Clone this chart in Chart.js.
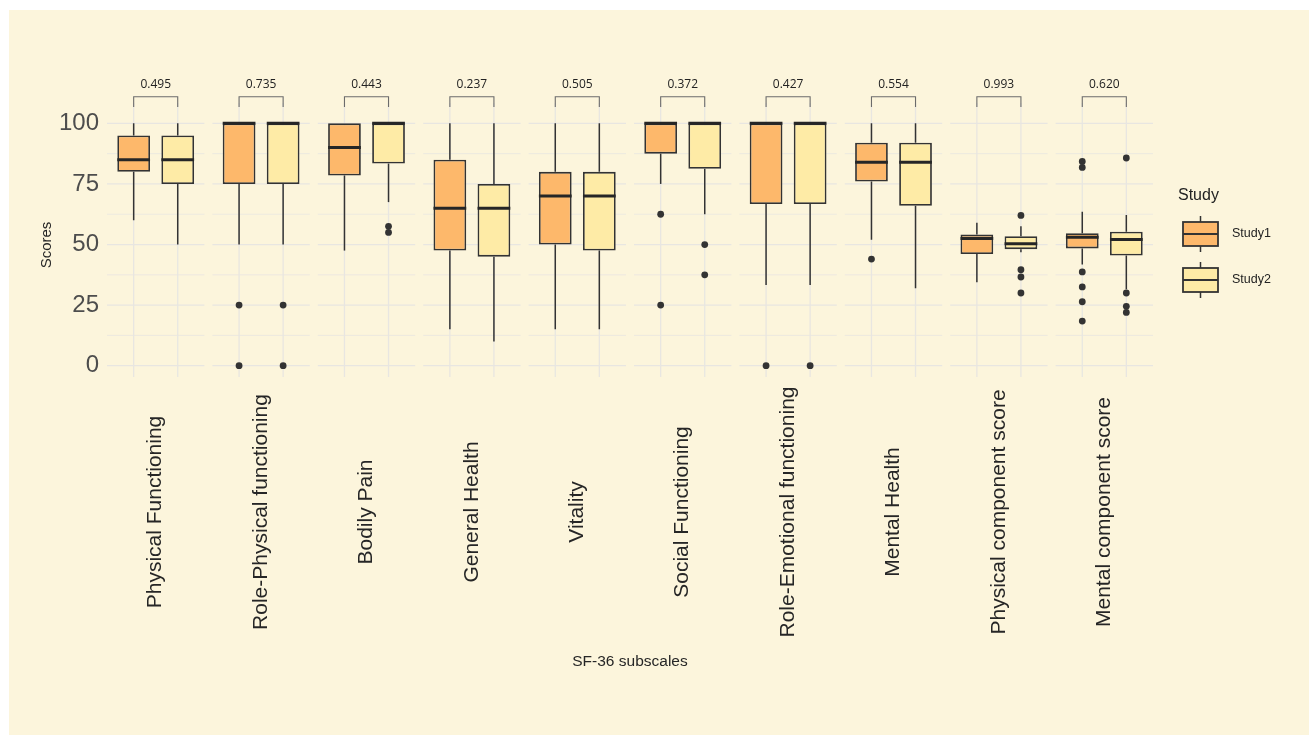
<!DOCTYPE html>
<html>
<head>
<meta charset="utf-8">
<script src="https://cdn.jsdelivr.net/npm/chart.js@4.4.1/dist/chart.umd.min.js"></script>
<style>
  html, body { margin: 0; padding: 0; background: #ffffff; }
  #box { width: 1309px; height: 735px; }
</style>
</head>
<body>
<div id="box"><canvas id="sfChart" width="1309" height="735"></canvas></div>
<script>
const categories = ['Physical Functioning', 'Role-Physical functioning', 'Bodily Pain', 'General Health',
    'Vitality', 'Social Functioning', 'Role-Emotional functioning', 'Mental Health',
    'Physical component score', 'Mental component score'];
const pValues = ['0.495', '0.735', '0.443', '0.237', '0.505', '0.372', '0.427', '0.554', '0.993', '0.620'];
const yTicks = [0, 25, 50, 75, 100];

// Study1 box stats
const s1Min = [60, 50, 47.5, 15, 15, 75, 33.3, 52, 34.4, 41.8];
const s1Q1 = [80, 75, 78.5, 47.5, 50, 87.5, 66.7, 76, 46.1, 48.4];
const s1Median = [85, 100, 90, 65, 70, 100, 100, 84, 52.5, 53.0];
const s1Q3 = [95, 100, 100, 85, 80, 100, 100, 92, 54.1, 54.7];
const s1Max = [100, 100, 100, 100, 100, 100, 100, 100, 59.0, 63.5];
const s1Outliers = [[], [25, 0], [], [], [], [62.5, 25], [0], [44], [], [84.3, 81.8, 38.7, 32.5, 26.4, 18.4]];

// Study2 box stats
const s2Min = [50, 50, 67.5, 10, 15, 62.5, 33.3, 32, 46.8, 31.5];
const s2Q1 = [75, 75, 83.4, 45, 47.5, 81.25, 66.7, 66, 48.1, 45.5];
const s2Median = [85, 100, 100, 65, 70, 100, 100, 84, 50.3, 52.1];
const s2Q3 = [95, 100, 100, 75, 80, 100, 100, 92, 53.4, 55.3];
const s2Max = [100, 100, 100, 100, 100, 100, 100, 100, 57.5, 62.2];
const s2Outliers = [[], [25, 0], [57.5, 55], [], [], [50, 37.5], [0], [], [62.0, 39.6, 36.6, 30.0], [85.7, 30.0, 24.5, 22.0]];

const studyNames = ['Study1', 'Study2'];
const studyColors = ['#FDB86B', '#FEEBA6'];
const ink = '#333333';
const gridColor = '#E8E6E1';
const font = '"Liberation Sans", Arial, sans-serif';

const stats = [
    { min: s1Min, q1: s1Q1, med: s1Median, q3: s1Q3, max: s1Max, out: s1Outliers },
    { min: s2Min, q1: s2Q1, med: s2Median, q3: s2Q3, max: s2Max, out: s2Outliers }
];

function boxData(st) {
    return st.q1.map((q, i) => [q, st.q3[i]]);
}

const boxPlugin = {
    id: 'boxPlugin',
    beforeDraw(chart) {
        const ctx = chart.ctx;
        ctx.save();
        ctx.fillStyle = '#ffffff';
        ctx.fillRect(0, 0, chart.width, chart.height);
        ctx.fillStyle = '#FCF5DC';
        ctx.fillRect(9, 10, chart.width - 9, chart.height - 10);
        ctx.restore();
    },
    beforeDatasetsDraw(chart) {
        const ctx = chart.ctx;
        const x = chart.scales.x, y = chart.scales.y;
        const area = chart.chartArea;
        const half = (area.right - area.left) / categories.length / 2 - 4;
        ctx.save();
        ctx.strokeStyle = gridColor;
        categories.forEach((c, i) => {
            const cx = x.getPixelForValue(i);
            for (let v = 0; v <= 100; v += 12.5) {
                ctx.lineWidth = v % 25 === 0 ? 1.3 : 0.8;
                const py = y.getPixelForValue(v);
                ctx.beginPath();
                ctx.moveTo(cx - half, py);
                ctx.lineTo(cx + half, py);
                ctx.stroke();
            }
            ctx.lineWidth = 1.3;
            chart.data.datasets.forEach((ds, d) => {
                const bar = chart.getDatasetMeta(d).data[i];
                ctx.beginPath();
                ctx.moveTo(bar.x, area.top);
                ctx.lineTo(bar.x, area.bottom);
                ctx.stroke();
            });
        });
        // whiskers
        ctx.strokeStyle = ink;
        ctx.lineWidth = 1.5;
        chart.data.datasets.forEach((ds, d) => {
            const st = stats[d];
            chart.getDatasetMeta(d).data.forEach((bar, i) => {
                ctx.beginPath();
                ctx.moveTo(bar.x, y.getPixelForValue(st.q3[i]));
                ctx.lineTo(bar.x, y.getPixelForValue(st.max[i]));
                ctx.moveTo(bar.x, y.getPixelForValue(st.q1[i]));
                ctx.lineTo(bar.x, y.getPixelForValue(st.min[i]));
                ctx.stroke();
            });
        });
        ctx.restore();
    },
    afterDatasetsDraw(chart) {
        const ctx = chart.ctx;
        const y = chart.scales.y;
        ctx.save();
        chart.data.datasets.forEach((ds, d) => {
            const st = stats[d];
            chart.getDatasetMeta(d).data.forEach((bar, i) => {
                const w = bar.width;
                ctx.strokeStyle = '#262626';
                ctx.lineWidth = 3;
                const my = y.getPixelForValue(st.med[i]);
                ctx.beginPath();
                ctx.moveTo(bar.x - w / 2, my);
                ctx.lineTo(bar.x + w / 2, my);
                ctx.stroke();
                ctx.fillStyle = ink;
                st.out[i].forEach(v => {
                    ctx.beginPath();
                    ctx.arc(bar.x, y.getPixelForValue(v), 3.4, 0, Math.PI * 2);
                    ctx.fill();
                });
            });
        });
        // significance brackets
        const m1 = chart.getDatasetMeta(0).data, m2 = chart.getDatasetMeta(1).data;
        const top = y.getPixelForValue(111), low = y.getPixelForValue(106.7);
        ctx.strokeStyle = '#6b6b6b';
        ctx.lineWidth = 1.1;
        ctx.fillStyle = '#222222';
        ctx.font = '12px "Open Sans", "Noto Sans", sans-serif';
        ctx.textAlign = 'center';
        ctx.textBaseline = 'middle';
        pValues.forEach((p, i) => {
            const a = m1[i].x, b = m2[i].x;
            ctx.beginPath();
            ctx.moveTo(a, low);
            ctx.lineTo(a, top);
            ctx.lineTo(b, top);
            ctx.lineTo(b, low);
            ctx.stroke();
            ctx.fillText(p, (a + b) / 2, top - 12.5);
        });
        ctx.restore();
    },
    afterDraw(chart) {
        const ctx = chart.ctx;
        const x = chart.scales.x;
        ctx.save();
        // category labels, rotated and centred
        ctx.fillStyle = '#262626';
        ctx.font = '21px ' + font;
        ctx.textAlign = 'center';
        ctx.textBaseline = 'middle';
        categories.forEach((c, i) => {
            ctx.save();
            ctx.translate(x.getPixelForValue(i), 512);
            ctx.rotate(-Math.PI / 2);
            ctx.fillText(c, 0, 0);
            ctx.restore();
        });
        // axis titles
        ctx.font = '15.5px ' + font;
        ctx.fillText('SF-36 subscales', 630, 662);
        ctx.save();
        ctx.translate(47, 245);
        ctx.rotate(-Math.PI / 2);
        ctx.font = '15px ' + font;
        ctx.fillText('Scores', 0, 0);
        ctx.restore();
        // legend
        ctx.textAlign = 'left';
        ctx.font = '16px ' + font;
        ctx.fillStyle = '#222222';
        ctx.fillText('Study', 1178, 196);
        studyNames.forEach((name, k) => {
            const t = 222 + k * 46;
            ctx.strokeStyle = ink;
            ctx.lineWidth = 1.5;
            ctx.beginPath();
            ctx.moveTo(1200.5, t - 6);
            ctx.lineTo(1200.5, t + 30);
            ctx.stroke();
            ctx.fillStyle = studyColors[k];
            ctx.fillRect(1183, t, 35, 24);
            ctx.lineWidth = 1.8;
            ctx.strokeRect(1183, t, 35, 24);
            ctx.beginPath();
            ctx.moveTo(1183, t + 12);
            ctx.lineTo(1218, t + 12);
            ctx.stroke();
            ctx.fillStyle = '#222222';
            ctx.font = '12.5px ' + font;
            ctx.fillText(name, 1232, t + 12);
        });
        ctx.restore();
    }
};

new Chart(document.getElementById('sfChart'), {
    type: 'bar',
    data: {
        labels: categories,
        datasets: studyNames.map((name, d) => ({
            label: name,
            data: boxData(stats[d]),
            backgroundColor: studyColors[d],
            borderColor: ink,
            borderWidth: 1.8,
            borderSkipped: false,
            categoryPercentage: 0.836,
            barPercentage: 0.743
        }))
    },
    options: {
        responsive: false,
        animation: false,
        devicePixelRatio: 1,
        layout: { padding: { top: 103, right: 152, bottom: 0, left: 0 } },
        plugins: {
            legend: { display: false },
            tooltip: { enabled: false }
        },
        scales: {
            x: {
                grid: { display: false, drawTicks: false },
                border: { display: false },
                ticks: { display: false },
                afterFit: function(scale) { scale.height = 358; }
            },
            y: {
                min: -4.66,
                max: 108.4,
                grid: { display: false, drawTicks: false },
                border: { display: false },
                afterBuildTicks: function(scale) {
                    scale.ticks = yTicks.map(v => ({ value: v }));
                },
                afterFit: function(scale) { scale.width = 103; },
                ticks: {
                    padding: 4,
                    color: '#4D4D4D',
                    font: { family: font, size: 24 }
                }
            }
        }
    },
    plugins: [boxPlugin]
});
</script>
</body>
</html>
